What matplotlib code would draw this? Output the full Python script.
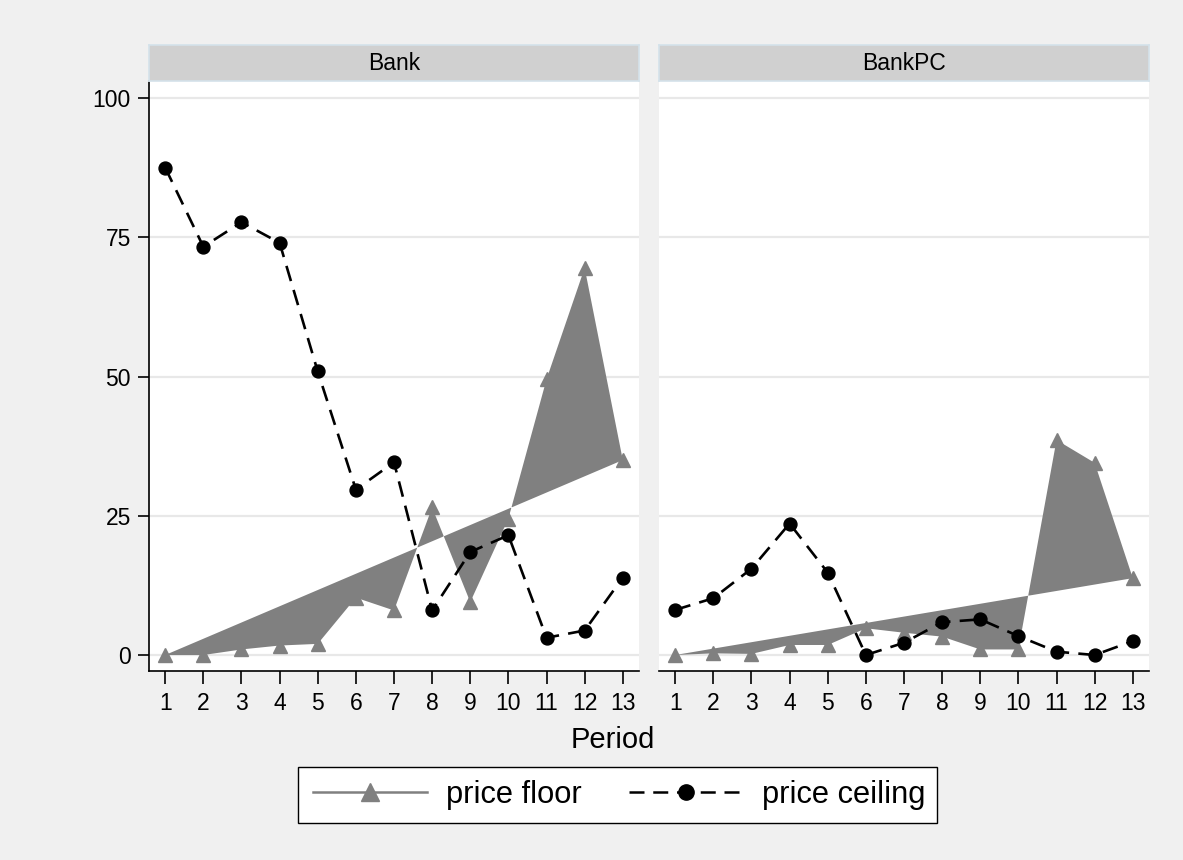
import matplotlib
matplotlib.use("Agg")
import matplotlib.pyplot as plt
from matplotlib.lines import Line2D
from matplotlib.patches import Rectangle

plt.rcParams['font.family'] = ['Liberation Sans', 'DejaVu Sans']

# ---- data ----
periods = list(range(1, 14))
panels = ["Bank", "BankPC"]
bank_floor = [0, 0, 1, 1.7, 2, 10.3, 8, 26.5, 9.5, 24.5, 49.5, 69.5, 35]
bank_ceiling = [87.5, 73.3, 77.7, 74.0, 50.9, 29.7, 34.6, 8.0, 18.5, 21.5, 3.1, 4.4, 13.9]
bankpc_floor = [0, 0.3, 0.2, 1.8, 1.8, 4.8, 4.0, 3.3, 1.0, 1.0, 38.6, 34.5, 13.8]
bankpc_ceiling = [8.1, 10.2, 15.5, 23.6, 14.8, 0, 2.2, 5.9, 6.4, 3.4, 0.6, 0, 2.5]
yticks = [0, 25, 50, 75, 100]
series_labels = ["price floor", "price ceiling"]

floors = [bank_floor, bankpc_floor]
ceilings = [bank_ceiling, bankpc_ceiling]

W, H = 1183, 860
BG = '#f0f0f0'
GRAY = '#808080'
fig = plt.figure(figsize=(W / 100, H / 100), dpi=100, facecolor=BG)

def fx(px):
    return px / W

def fy(py):
    return 1 - py / H

ax_lefts = [149, 659]
ax_w = 490
ax_top, ax_bot = 81, 671
strip_top = 45
tick_fs = 16.5
dash = (0, (6, 3.5))

for i, name in enumerate(panels):
    ax = fig.add_axes([fx(ax_lefts[i]), fy(ax_bot), ax_w / W, (ax_bot - ax_top) / H])
    ax.set_facecolor('white')
    ax.set_xlim(0.575, 13.425)
    ax.set_ylim(-2.87, 103.05)
    ax.set_yticks(yticks)
    ax.set_xticks(periods)
    ax.yaxis.grid(True, color='#e8e8e8', lw=1.6)
    ax.set_axisbelow(True)
    for s in ['top', 'right']:
        ax.spines[s].set_visible(False)
    ax.spines['bottom'].set_color('black')
    ax.spines['bottom'].set_linewidth(1.2)
    if i == 0:
        ax.spines['left'].set_color('black')
        ax.spines['left'].set_linewidth(1.2)
        ax.tick_params(axis='y', direction='out', length=8, width=1.2, pad=5,
                       labelsize=tick_fs, colors='black')
    else:
        ax.spines['left'].set_visible(False)
        ax.tick_params(axis='y', length=0, labelleft=False)
    ax.tick_params(axis='x', direction='out', length=9, width=1.2, pad=6,
                   labelsize=tick_fs, colors='black')

    # price floor: filled polygon + triangle markers
    ax.fill(periods, floors[i], color=GRAY, lw=0, zorder=2)
    ax.plot(periods, floors[i], ls='none', marker='^', ms=10.5, color=GRAY,
            mec=GRAY, zorder=3)
    # price ceiling: dashed line with circles
    ax.plot(periods, ceilings[i], ls=dash, lw=1.9, color='black', marker='o',
            ms=9.3, zorder=4)

    # strip header
    sax = fig.add_axes([fx(ax_lefts[i]), fy(ax_top), ax_w / W, (ax_top - strip_top) / H])
    sax.set_facecolor('#d0d0d0')
    sax.set_xticks([])
    sax.set_yticks([])
    for s in sax.spines.values():
        s.set_color('#d4e2ea')
        s.set_linewidth(1.2)
    sax.text(0.5, 0.5, name, ha='center', va='center', fontsize=16.5,
             transform=sax.transAxes)

fig.text(fx(613), fy(740), 'Period', ha='center', va='center', fontsize=21)

# legend frame
fig.patches.append(Rectangle((fx(298), fy(823)), 639 / W, 56 / H,
                             transform=fig.transFigure, facecolor='white',
                             edgecolor='black', lw=1.0, zorder=1))

handles = [
    Line2D([], [], color=GRAY, lw=1.8, marker='^', ms=12.5, mec=GRAY),
    Line2D([], [], color='black', lw=1.8, ls=dash, marker='o', ms=11),
]
leg = fig.legend(handles, series_labels, loc='center',
                 bbox_to_anchor=(fx(619.4), fy(795)), ncol=2, frameon=False,
                 fontsize=22.2, handlelength=3.7,
                 handletextpad=0.61, columnspacing=1.54, borderpad=0.2,
                 borderaxespad=0)
leg.set_zorder(5)

fig.savefig('out.png', dpi=100, facecolor=BG)
